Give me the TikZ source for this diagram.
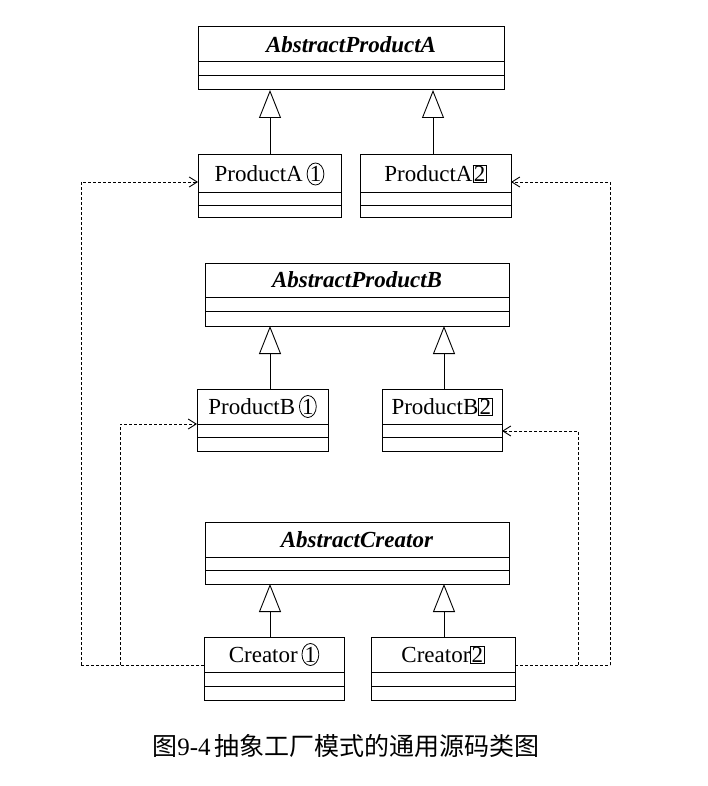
\documentclass[tikz,border=0pt]{standalone}
\usepackage{fontspec}
\setmainfont{Liberation Serif}
\newfontfamily\cjk{Noto Sans CJK SC}
\usetikzlibrary{arrows.meta,shapes.geometric}
\newcommand{\cnum}[1]{\tikz[baseline=(q.base)]\node[draw,ellipse,inner sep=0.2pt,line width=0.8pt](q){#1};}
\newcommand{\bnum}[1]{{\setlength{\fboxsep}{0.5pt}\setlength{\fboxrule}{0.8pt}\fbox{#1}}}
% \cls{name}{x1}{y1}{x2}{y2}{d1}{d2}{text}
\newcommand{\cls}[8]{%
  \node[cbox,minimum width=#4-#2,minimum height=#5-#3] (#1) at ({(#2+#4)/2},{(#3+#5)/2}) {};
  \draw[line width=1pt] (#2,#6) -- (#4,#6) (#2,#7) -- (#4,#7);
  \node[font=\fontsize{23}{25}\selectfont] (#1t) at ({(#2+#4)/2},{(#3+#6)/2}) {#8};}
\begin{document}
\begin{tikzpicture}[x=1pt,y=-1pt,
  cbox/.style={draw,line width=1pt,rectangle,inner sep=0,outer sep=0},
  inh/.style={draw,line width=0.9pt,-{Triangle[open,width=22pt,length=28pt]}},
  dep/.style={draw,dashed,line width=0.9pt,dash pattern=on 3pt off 2pt,-{Straight Barb[width=10pt,length=8pt]}},
  dl/.style={draw,dashed,line width=0.9pt,dash pattern=on 3pt off 2pt}]
\useasboundingbox (0,0) rectangle (707,786);
\cls{apa}{198}{27}{504}{90}{62}{76}{\textbf{\textit{AbstractProductA}}}
\cls{pa1}{198}{155}{341}{218}{193}{206}{ProductA\,\cnum{1}}
\cls{pa2}{360}{155}{511}{218}{193}{206}{ProductA\bnum{2}}
\cls{apb}{205}{263}{509}{326}{297}{311}{\textbf{\textit{AbstractProductB}}}
\cls{pb1}{197}{389}{328}{451}{424}{437}{ProductB\,\cnum{1}}
\cls{pb2}{382}{389}{502}{451}{424}{437}{ProductB\bnum{2}}
\cls{ac}{205}{522}{509}{584}{557}{570}{\textbf{\textit{AbstractCreator}}}
\cls{c1}{204}{637}{344}{700}{672}{686}{Creator\,\cnum{1}}
\cls{c2}{371}{637}{515}{700}{672}{686}{Creator\bnum{2}}
% inheritance
\draw[inh] (pa1.north -| 270,0) -- (apa.south -| 270,0);
\draw[inh] (pa2.north -| 433,0) -- (apa.south -| 433,0);
\draw[inh] (pb1.north -| 270,0) -- (apb.south -| 270,0);
\draw[inh] (pb2.north -| 444,0) -- (apb.south -| 444,0);
\draw[inh] (c1.north -| 270,0) -- (ac.south -| 270,0);
\draw[inh] (c2.north -| 444,0) -- (ac.south -| 444,0);
% dependencies
\coordinate (l1) at (81,665);
\coordinate (l2) at (120,665);
\coordinate (r1) at (610,665);
\coordinate (r2) at (578,665);
\path[dl] (c1.west |- 0,665) -- (l1);
\path[dep] (l1) -- (81,182) -- (pa1.west |- 0,182);
\path[dep] (l2) -- (120,424) -- (pb1.west |- 0,424);
\path[dl] (c2.east |- 0,665) -- (r1);
\path[dep] (r1) -- (610,182) -- (pa2.east |- 0,182);
\path[dep] (r2) -- (578,431) -- (pb2.east |- 0,431);
\node[font=\fontsize{25}{28}\selectfont] (cap) at (346,746) {{\cjk 图}9-4\,{\cjk 抽象工厂模式的通用源码类图}};
\end{tikzpicture}
\end{document}
